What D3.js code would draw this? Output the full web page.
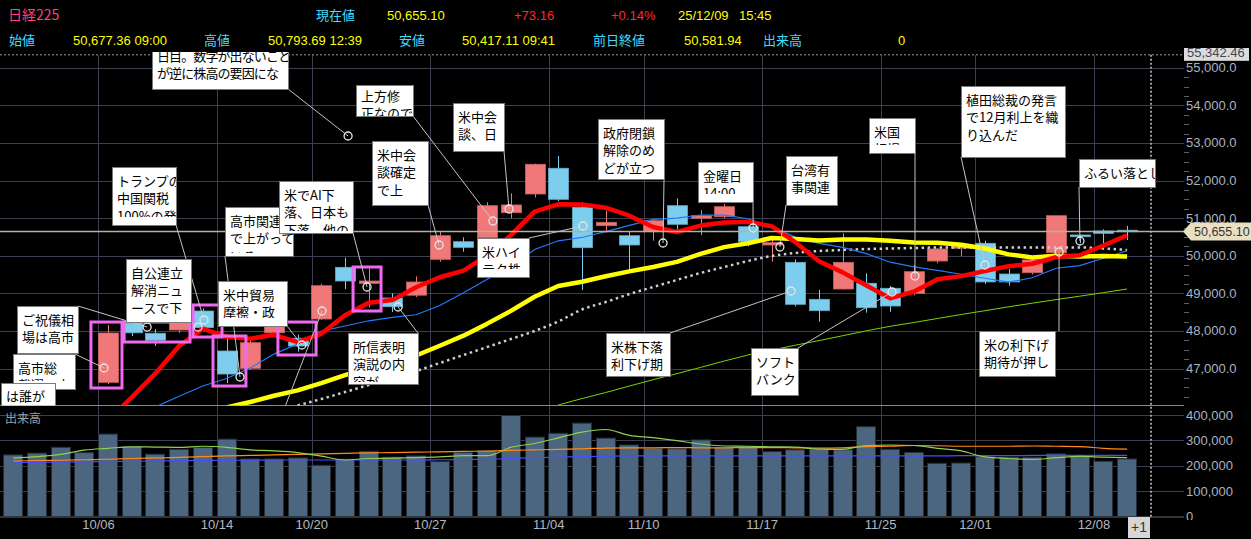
<!DOCTYPE html>
<html><head><meta charset="utf-8">
<script src="https://cdn.jsdelivr.net/npm/d3@7"></script>
<style>html,body{margin:0;padding:0;background:#000;}svg{display:block;}</style>
</head><body>
<svg id="chart" width="1251" height="539"></svg>
<script>
// ---------------- DATA ----------------
const dates = ["09/30","10/01","10/02","10/03","10/06","10/07","10/08","10/09","10/10","10/14","10/15","10/16","10/17","10/20","10/21","10/22","10/23","10/24","10/27","10/28","10/29","10/30","10/31","11/04","11/05","11/06","11/07","11/10","11/11","11/12","11/13","11/14","11/17","11/18","11/19","11/20","11/21","11/25","11/26","11/27","11/28","12/01","12/02","12/03","12/04","12/05","12/08","12/09"];
const opens  = [44700,44800,44700,45200,46632,48244,47936,48024,48529,47465,47005,47950,47803,48316,49691,49265,48875,48950,49904,50372,50479,51144,51641,52325,51287,50798,50532,50638,51330,50995,51037,50771,50285,49824,48840,49114,49266,49133,48999,49859,50200,50330,49513,49548,50080,50551,50657,50677.36];
const highs  = [45050,44900,45100,45800,48157,48527,48050,48597,48600,47803,47800,48400,47900,49250,49947,49665,49000,49450,50638,50489,51420,51660,52450,52652,51420,51197,50657,50960,51527,51215,51375,50800,50505,49900,49088,50596,49532,49194,49753,50200,50300,50400,49650,49980,51064,50560,50700,50793.69];
const lows   = [44550,44400,44500,45100,46587,47862,47600,47950,48050,46614,46960,47900,47450,48300,49114,48627,48500,48900,49840,50106,50400,50995,51550,51450,49090,50612,49620,50399,50700,50551,51000,50250,49840,48650,48244,49100,48484,48510,48950,49800,49990,49250,49200,49500,50000,50330,50320,50417.11];
const closes = [44932,44550,44936,45769,47944,47950,47750,48580,48088,46853,47686,48277,47598,49202,49327,49327,48643,49300,50532,50223,51330,51349,52431,51500,50213,50888,50285,50931,50835,51064,51303,50372,50346,48707,48537,49824,48617,48662,49574,50178,50253,49303,49303,49886,51064,50505,50596,50655.10];
const volumes = [243000,250000,273000,252000,325000,276000,246000,265000,272000,305000,227000,227000,231000,202000,226000,257000,234000,239000,217000,253000,259000,398000,313000,328000,368000,309000,282000,269000,267000,302000,272000,276000,256000,263000,265000,263000,354000,265000,253000,210000,211000,236000,234000,234000,247000,236000,218000,227000];

// price moving averages
const maRed    = [null,null,null,null,45626,46230,46870,47599,48062,47844,47791,47897,47700,47923,48418,48746,48819,49160,49426,49605,50006,50547,51173,51367,51365,51276,51063,50763,50630,50801,50884,50901,50784,50358,49853,49557,49206,48869,49043,49371,49457,49594,49722,49785,49962,50012,50271,50541];
const maBlue   = [null,null,null,null,null,45766,45978,46261,46534,46735,47011,47383,47650,47993,48131,48269,48358,48430,48675,49012,49376,49683,50166,50396,50485,50641,50805,50968,50999,51083,51080,50982,50774,50494,50327,50220,50054,49827,49701,49612,49507,49400,49296,49414,49666,49735,49932,50132];
const maYellow = [null,null,null,null,null,null,null,null,null,45962,46108,46276,46417,46612,46826,47018,47168,47345,47604,47873,48193,48533,48908,49195,49308,49455,49582,49699,49837,50047,50228,50333,50470,50445,50406,50431,50429,50397,50350,50347,50293,50191,50035,49954,49997,49977,49993,49979];
const maDotted = [null,null,null,null,null,null,null,null,null,null,null,null,46020,46188,46374,46561,46747,46933,47146,47359,47571,47784,47997,48250,48569,48768,48981,49167,49354,49540,49699,49859,49992,50072,50125,50152,50178,50192,50205,50218,50218,50218,50218,50218,50218,50218,50192,50152];
const maGreen  = [null,null,null,null,null,null,null,null,null,null,null,null,null,null,null,null,null,null,null,null,null,null,null,46030,46201,46361,46534,46702,46862,47029,47199,47359,47489,47620,47742,47872,48002,48122,48223,48330,48436,48537,48641,48737,48832,48923,49018,49114];

// volume moving averages
const vmaGreen  = [230000,236000,245000,262000,269000,275000,274000,273000,277000,273000,263000,259000,252000,238000,223000,229000,230000,232000,235000,240000,240000,273000,288000,310000,333000,343000,320000,311000,299000,286000,278000,277000,275000,274000,266000,265000,280000,282000,280000,269000,259000,235000,229000,225000,232000,237000,234000,232000];
const vmaOrange = [219000,221000,222000,224000,226000,229000,231000,233000,236000,239000,241000,243000,245000,247000,249000,251000,252000,254000,255000,257000,258000,261000,263000,265000,267000,270000,271000,271000,272000,271000,271000,272000,272000,271000,270000,271000,276000,277000,280000,279000,277000,277000,277000,278000,277000,276000,269000,266000];
const vmaBlue   = [213000,214000,215000,216000,217000,218000,219000,220000,221000,222000,222000,223000,223000,223000,223000,223000,223000,223000,224000,225000,226000,229000,232000,234000,236000,238000,239000,239000,239000,239000,239000,239000,239000,239000,239000,239000,239000,239000,239000,239000,240000,240000,240000,241000,241000,241000,241000,241000];

const tickLabels   = ["10/06","10/14","10/20","10/27","11/04","11/10","11/17","11/25","12/01","12/08"];
const priceTicks   = [47000,48000,49000,50000,51000,52000,53000,54000,55000];
const volumeTicks  = [0,100000,200000,300000,400000];
const lastPrice = 50655.10;
const topPrice  = 55342.46;

// highlighted candles (index range, price range)
const highlights = [[3.28,4.59,48236,46481],[4.68,7.46,48236,47704],[7.59,8.81,48689,47837],[8.43,9.82,47864,46534],[11.17,12.78,48236,47359],[14.34,15.52,49699,48529]];

// notes: text, anchor [index, price]
const notes = [
 {t:["日目。数字が出ないこと","が逆に株高の要因にな"], at:[14.13,53184]},
 {t:["トランプの","中国関税","100%の発言"], at:[8.05,48290]},
 {t:["高市関連","で上がって","いる"], at:[9.57,46774]},
 {t:["米でAI下","落、日本も","下落。他の"], at:[14.93,49167]},
 {t:["米中貿易","摩擦・政"], at:[12.18,47625]},
 {t:["ご祝儀相","場は高市"], at:[5.65,48103]},
 {t:["自公連立","解消ニュ","ースで下"], at:[7.80,48103]},
 {t:["高市総","裁選で大"], at:[3.83,47013]},
 {t:["は誰が"], at:null},
 {t:["所信表明","演説の内","容が"], at:[16.24,48635]},
 {t:["…"], at:[13.03,48529]},
 {t:["上方修","正なので"], at:[20.24,50923]},
 {t:["米中会","談確定","で上"], at:[17.97,50285]},
 {t:["米中会","談、日"], at:[20.92,51242]},
 {t:["米ハイ","テク株"], at:[24.04,50790]},
 {t:["政府閉鎖","解除のめ","どが立つ"], at:[27.42,50338]},
 {t:["金曜日","14:00"], at:[31.22,50737]},
 {t:["台湾有","事関連"], at:[32.35,50232]},
 {t:["米国","相場"], at:[38.05,49460]},
 {t:["植田総裁の発言","で12月利上を織","り込んだ"], at:[41.0,49753]},
 {t:["ふるい落とし"], at:[45.01,50391]},
 {t:["米株下落","利下げ期"], at:[32.82,49061]},
 {t:["ソフト","バンク"], at:[37.08,49034]},
 {t:["米の利下げ","期待が押し"], at:[44.13,50098]}
];
// note box layout in px: [x, y, w, h, leaderX, leaderY, letterSpacing, textClipInset, textDy]
const noteBoxes = [
 [152,42,136,47,288,89,-0.9,8,0],
 [112,167,64,58,176,225,0,8,0],
 [225,207,68,49,225,256,0,3,0],
 [279,181,74,52,353,233,0,2,0],
 [218,281,69,45,287,326,0,8,0],
 [17,306,61,47,78,306,0,8,0],
 [126,259,65,63,191,322,0,8,0],
 [13,354,62,35,75,354,0,8,0],
 [1,383,54,30,null,null,0,0,-1.5],
 [348,333,70,51,418,333,0,2,0],
 [240,412,80,40,283,412,0,8,0],
 [356,85,57,31,413,116,0,0,-3],
 [372,141,56,64,428,205,0,8,0],
 [453,103,51,48,504,151,0,8,0],
 [477,238,52,39,529,238,0,8,0],
 [598,119,66,60,664,179,0,5,0],
 [698,162,55,40,753,202,0,8,0],
 [786,156,51,49,786,205,0,8,0],
 [869,118,46,35,915,153,0,8,0],
 [961,86,104,71,961,157,0,8,0],
 [1079,159,76,28,1079,187,0,8,0],
 [606,333,64,43,670,333,0,3,0],
 [751,348,47,47,798,348,0,8,0],
 [979,331,76,45,1059,331,0,3,0]
];

const header = [
 ["日経225",8,20,"#ff3f7f","jp",14],["現在値",316,20,"#3fdcff","jp",13],["50,655.10",387,20,"#ffff00","n",13],["+73.16",514,20,"#ff2a2a","n",13],["+0.14%",611,20,"#ff2a2a","n",13],["25/12/09",678,20,"#ffff00","n",13],["15:45",739,20,"#ffff00","n",13],
 ["始値",9,45,"#3fdcff","jp",13],["50,677.36 09:00",73,45,"#ffff00","n",13],["高値",204,45,"#3fdcff","jp",13],["50,793.69 12:39",268,45,"#ffff00","n",13],["安値",399,45,"#3fdcff","jp",13],["50,417.11 09:41",462,45,"#ffff00","n",13],["前日終値",593,45,"#3fdcff","jp",13],["50,581.94",684,45,"#ffff00","n",13],["出来高",763,45,"#3fdcff","jp",13],["0",898,45,"#ffff00","n",13]
];

// ---------------- DRAW ----------------
const JP = "'Noto Sans CJK JP','Noto Sans',sans-serif";
const NUM = "'Liberation Sans',Arial,sans-serif";
const svg = d3.select("#chart");
svg.append("rect").attr("width",1251).attr("height",539).attr("fill","#000");

const X  = d3.scaleLinear().domain([0,47]).range([13.2,1127.1]);
const Y  = d3.scaleLinear().domain([46000,55000]).range([406.1,67.7]);
const YV = d3.scaleLinear().domain([0,400000]).range([516.7,415]);
const R = 1184;

const defs = svg.append("defs");
defs.append("clipPath").attr("id","cp").append("rect").attr("x",0).attr("y",52).attr("width",R).attr("height",353.5);
defs.append("clipPath").attr("id","cv").append("rect").attr("x",0).attr("y",406).attr("width",R).attr("height",111);
defs.append("clipPath").attr("id","cax").append("rect").attr("x",R).attr("y",48).attr("width",70).attr("height",472);

header.forEach(h=>{
  svg.append("text").attr("x",h[1]).attr("y",h[2]).attr("fill",h[3])
    .attr("font-family",h[4]==="jp"?JP:NUM).attr("font-size",h[5]).text(h[0]);
});

// grid
const g = svg.append("g").attr("stroke","#3b3f50").attr("stroke-width",1);
priceTicks.forEach(p=>{const y=Math.round(Y(p))+0.5; g.append("line").attr("x1",0).attr("x2",R).attr("y1",y).attr("y2",y);});
volumeTicks.filter(v=>v>0).forEach(v=>{const y=Math.round(YV(v))+0.5; g.append("line").attr("x1",0).attr("x2",R).attr("y1",y).attr("y2",y);});
tickLabels.forEach(l=>{const i=dates.indexOf(l); const x=Math.round(X(i)-9.5)+0.5; g.append("line").attr("x1",x).attr("x2",x).attr("y1",55).attr("y2",517);});

svg.append("line").attr("x1",0).attr("x2",R).attr("y1",405.5).attr("y2",405.5).attr("stroke","#8a8a8a");
svg.append("line").attr("x1",0).attr("x2",R).attr("y1",517).attr("y2",517).attr("stroke","#6a6a70");
const yTop = Y(topPrice);
svg.append("line").attr("x1",0).attr("x2",R).attr("y1",yTop).attr("y2",yTop).attr("stroke","#9a9a9a").attr("stroke-dasharray","2,2");
svg.append("line").attr("x1",1151).attr("x2",1151).attr("y1",yTop).attr("y2",517).attr("stroke","#9a9a9a").attr("stroke-width",2).attr("stroke-dasharray","2,2");

// axes labels
const ax = svg.append("g").attr("clip-path","url(#cax)");
priceTicks.forEach(p=>{
  ax.append("text").attr("x",1186).attr("y",Y(p)+4.5).attr("fill","#a9b3c2").attr("font-family",NUM).attr("font-size",13).text(d3.format(",.1f")(p));
});
for(let p=46250;p<=55000;p+=250){ if(p%1000!==0){ const y=Math.round(Y(p))+0.5; ax.append("line").attr("x1",1184).attr("x2",1189).attr("y1",y).attr("y2",y).attr("stroke","#5a6070");}}
volumeTicks.forEach(v=>{
  ax.append("text").attr("x",1186).attr("y",YV(v)+4.5).attr("fill","#a9b3c2").attr("font-family",NUM).attr("font-size",13).text(d3.format(",")(v));
});
ax.append("rect").attr("x",1183).attr("y",yTop-8).attr("width",66).attr("height",14).attr("fill","#dcdcdc");
ax.append("text").attr("x",1187).attr("y",yTop+2.5).attr("fill","#445").attr("font-family",NUM).attr("font-size",13).text(d3.format(",.2f")(topPrice));

// x labels
tickLabels.forEach(l=>{const i=dates.indexOf(l);
  svg.append("text").attr("x",X(i)-9.5).attr("y",529).attr("text-anchor","middle").attr("fill","#b3b9c4").attr("font-family",NUM).attr("font-size",13).text(l);});
svg.append("rect").attr("x",1128).attr("y",517).attr("width",22).attr("height",21).attr("fill","#d6d6d6");
svg.append("text").attr("x",1139).attr("y",532).attr("text-anchor","middle").attr("fill","#333").attr("font-family",NUM).attr("font-size",14).text("+1");

// volume panel
const vp = svg.append("g").attr("clip-path","url(#cv)");
vp.selectAll("rect.v").data(volumes).enter().append("rect")
  .attr("x",(d,i)=>Math.round(X(i))-9.5).attr("width",19)
  .attr("y",d=>YV(d)).attr("height",d=>YV(0)-YV(d))
  .attr("fill","#4d6680").attr("stroke","#23303c").attr("stroke-width",1);
const vline = d3.line().defined(d=>d!=null).x((d,i)=>X(i)).y(d=>YV(d)).curve(d3.curveMonotoneX);
[[vmaBlue,"#4a4cff"],[vmaOrange,"#ff8c1a"],[vmaGreen,"#8fd14f"]].forEach(s=>{
  vp.append("path").datum(s[0]).attr("d",vline).attr("fill","none").attr("stroke",s[1]).attr("stroke-width",1.2);
});
svg.append("text").attr("x",5).attr("y",423).attr("fill","#9aa0a8").attr("font-family",JP).attr("font-size",12).text("出来高");

// price panel
const pp = svg.append("g").attr("clip-path","url(#cp)");
dates.forEach((d,i)=>{
  const up = closes[i] >= opens[i];
  const col = up ? "#f07878" : "#7dcdef";
  const cx = Math.round(X(i))+0.5;
  pp.append("line").attr("x1",cx).attr("x2",cx).attr("y1",Y(highs[i])).attr("y2",Y(lows[i])).attr("stroke",col).attr("stroke-width",1);
  const yt = Y(Math.max(opens[i],closes[i])), yb = Y(Math.min(opens[i],closes[i]));
  pp.append("rect").attr("x",cx-10).attr("y",yt).attr("width",20).attr("height",Math.max(yb-yt,1.5))
    .attr("fill",col).attr("stroke",d3.color(col).darker(0.5)).attr("stroke-width",0.8);
});
const pline = ()=>d3.line().defined(d=>d!=null).x((d,i)=>X(i)).y(d=>Y(d));
pp.append("path").datum(maGreen).attr("d",pline()).attr("fill","none").attr("stroke","#7cd400").attr("stroke-width",1);
pp.append("path").datum(maDotted).attr("d",pline().curve(d3.curveMonotoneX)).attr("fill","none").attr("stroke","#cfcfcf").attr("stroke-width",2.5).attr("stroke-dasharray","2.5,3.5");
pp.append("path").datum(maBlue).attr("d",pline()).attr("fill","none").attr("stroke","#1e7bff").attr("stroke-width",1.2);
pp.append("path").datum(maYellow).attr("d",pline()).attr("fill","none").attr("stroke","#ffff00").attr("stroke-width",4.5).attr("stroke-linejoin","round");
pp.append("path").datum(maRed).attr("d",pline()).attr("fill","none").attr("stroke","#ff0000").attr("stroke-width",4.5).attr("stroke-linejoin","round");

const yl = Math.round(Y(lastPrice))+0.5;
pp.append("line").attr("x1",0).attr("x2",R).attr("y1",yl).attr("y2",yl).attr("stroke","#b8b098").attr("stroke-width",1.3);

highlights.forEach(h=>{
  pp.append("rect").attr("x",X(h[0])).attr("y",Y(h[2])).attr("width",X(h[1])-X(h[0])).attr("height",Y(h[3])-Y(h[2]))
    .attr("fill","none").attr("stroke","#f06af0").attr("stroke-width",3);
});

notes.forEach((n,k)=>{
  const b = noteBoxes[k];
  if(!n.at) return;
  pp.append("line").attr("x1",b[4]).attr("y1",b[5]).attr("x2",X(n.at[0])).attr("y2",Y(n.at[1])).attr("stroke","#c4c4c4").attr("stroke-width",1);
});
notes.forEach(n=>{
  if(!n.at) return;
  pp.append("circle").attr("cx",X(n.at[0])).attr("cy",Y(n.at[1])).attr("r",4).attr("fill","none").attr("stroke","#e6e6e6").attr("stroke-width",1.3);
});
notes.forEach((n,k)=>{
  const b = noteBoxes[k];
  const id = "nb"+k;
  defs.append("clipPath").attr("id",id).append("rect").attr("x",b[0]).attr("y",b[1]).attr("width",b[2]).attr("height",b[3]-b[7]);
  const gb = pp.append("g");
  gb.append("rect").attr("x",b[0]+0.5).attr("y",b[1]+0.5).attr("width",b[2]).attr("height",b[3]).attr("fill","#fff").attr("stroke","#7a7a7a");
  const tg = gb.append("g").attr("clip-path","url(#"+id+")");
  n.t.forEach((line,j)=>{
    tg.append("text").attr("x",b[0]+5).attr("y",b[1]+19+b[8]+j*17.4).attr("fill","#000")
      .attr("font-family",JP).attr("font-size",13).attr("letter-spacing",b[6]).text(line);
  });
});

const tag = svg.append("g");
tag.append("path").attr("d",`M1183,${yl} L1191,${yl-9} L1251,${yl-9} L1251,${yl+9} L1191,${yl+9} Z`).attr("fill","#e9dfc3");
tag.append("text").attr("x",1194).attr("y",yl+4.5).attr("fill","#333").attr("font-family",NUM).attr("font-size",12.5).text(d3.format(",.2f")(lastPrice));
</script>
</body></html>
